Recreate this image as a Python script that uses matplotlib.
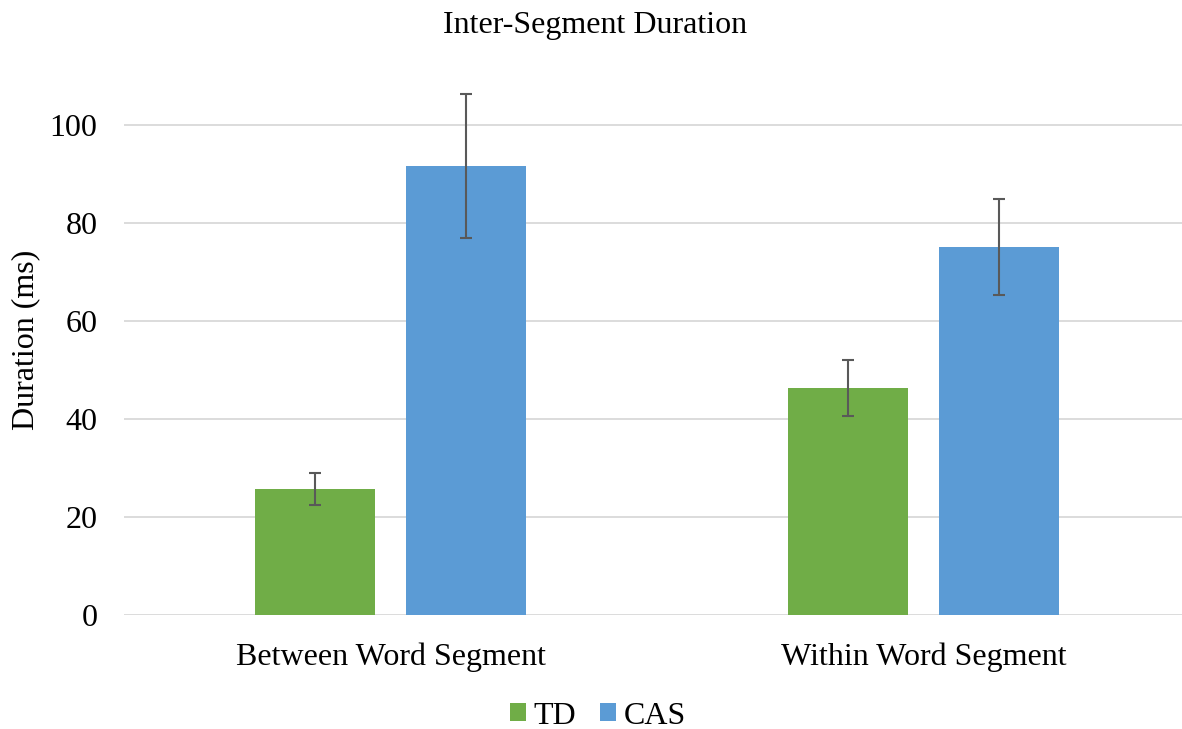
import numpy as np
import matplotlib.pyplot as plt

# values
categories = ["Between Word Segment", "Within Word Segment"]
series_names = ["TD", "CAS"]
td_means = [25.7, 46.3]
td_err = [3.2, 5.7]
cas_means = [91.6, 75.1]
cas_err = [14.7, 9.8]
y_ticks = [0, 20, 40, 60, 80, 100]

plt.rcParams['font.family'] = ['Liberation Serif', 'DejaVu Serif']

W, H = 1182, 729
fig = plt.figure(figsize=(W / 100, H / 100), dpi=100)
ax = fig.add_axes([124 / W, (H - 615) / H, (W - 124) / W, 539 / H])

x = np.arange(len(categories))
width = 0.225
offset = 0.142
err_kw = dict(ecolor='#595959', elinewidth=1.5, capsize=4.5, capthick=1.5)

ax.bar(x - offset, td_means, width, yerr=td_err, color='#70AD47',
       label=series_names[0], error_kw=err_kw, zorder=3)
ax.bar(x + offset, cas_means, width, yerr=cas_err, color='#5B9BD5',
       label=series_names[1], error_kw=err_kw, zorder=3)

ax.set_xlim(-0.5, -0.5 + (W - 124) / 533)
ax.set_ylim(0, 110)
ax.set_yticks(y_ticks)
ax.set_xticks(x)
ax.set_xticklabels(categories)

ax.yaxis.grid(True, color='#D9D9D9', linewidth=1.3, zorder=0)
ax.set_axisbelow(True)
for s in ax.spines.values():
    s.set_visible(False)
ax.tick_params(axis='y', length=0, pad=19, labelsize=23)
ax.tick_params(axis='x', length=0, pad=20, labelsize=23)

ax.set_ylabel("Duration (ms)", fontsize=23)
ax.yaxis.set_label_coords(-84 / (W - 124), (615 - 340) / 539)

fig.text(595 / W, 1 - 25 / H, "Inter-Segment Duration", ha='center',
         va='center', fontsize=23)

leg = fig.legend(loc='center', bbox_to_anchor=(598 / W, 1 - 716 / H), ncol=2,
                 frameon=False, fontsize=23, handlelength=0.5,
                 handleheight=0.5, handletextpad=0.25, columnspacing=0.75)

fig.savefig("out.png", dpi=100)
